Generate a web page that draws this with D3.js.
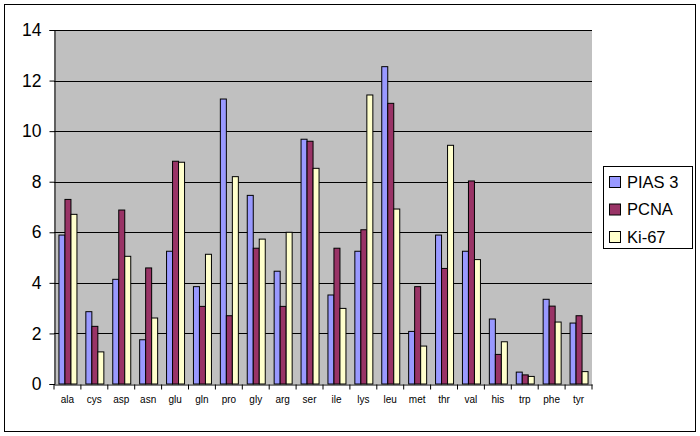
<!DOCTYPE html>
<html><head><meta charset="utf-8">
<script src="https://cdn.jsdelivr.net/npm/d3@7"></script>
<style>body{margin:0;background:#fff}svg{display:block}</style>
</head><body>
<script>
const categories = ["ala","cys","asp","asn","glu","gln","pro","gly","arg","ser","ile","lys","leu","met","thr","val","his","trp","phe","tyr"];
const seriesNames = ["PIAS 3","PCNA","Ki-67"];
const pias3 = [5.89,2.86,4.14,1.75,5.25,3.85,11.27,7.46,4.46,9.68,3.52,5.25,12.55,2.08,5.89,5.25,2.57,0.47,3.35,2.41];
const pcna  = [7.30,2.28,6.88,4.59,8.81,3.07,2.70,5.37,3.07,9.60,5.37,6.10,11.10,3.85,4.57,8.03,1.17,0.36,3.08,2.70];
const ki67  = [6.71,1.27,5.05,2.61,8.77,5.13,8.20,5.73,6.00,8.53,2.99,11.43,6.92,1.50,9.44,4.92,1.67,0.30,2.45,0.49];
const yTicks = [0,2,4,6,8,10,12,14];
const colors = ["#9999FF","#993366","#FFFFCC"];
const values = [pias3, pcna, ki67];

(function(){
const W = 700, H = 436;
const svg = d3.select("body").append("svg").attr("width", W).attr("height", H);
svg.append("rect").attr("x",4.5).attr("y",4.5).attr("width",691).attr("height",427)
  .attr("fill","#fff").attr("stroke","#000").attr("stroke-width",1);

const pL = 54, pR = 592, pT = 30, pB = 384;
const x = d3.scaleBand().domain(categories).range([pL, pR]).paddingInner(0).paddingOuter(0);
const y = d3.scaleLinear().domain([0,14]).range([pB, pT]);
const xs = d3.scaleBand().domain(seriesNames).range([0, 18]);

svg.append("rect").attr("x",pL).attr("y",pT).attr("width",pR-pL).attr("height",pB-pT).attr("fill","#C0C0C0");

svg.append("g").selectAll("line").data(yTicks.filter(d=>d>0)).join("line")
  .attr("x1",pL).attr("x2",pR).attr("y1",d=>Math.round(y(d))+0.5).attr("y2",d=>Math.round(y(d))+0.5)
  .attr("stroke","#000").attr("stroke-width",1);

const groups = svg.append("g").selectAll("g").data(categories).join("g")
  .attr("transform", d => `translate(${x(d) + (x.bandwidth()-18)/2 + 0.5},0)`);
groups.selectAll("rect").data((d,i) => seriesNames.map((s,k)=>({s, v: values[k][i], c: colors[k]}))).join("rect")
  .attr("x", d => xs(d.s)).attr("width", xs.bandwidth())
  .attr("y", d => y(d.v)).attr("height", d => pB - y(d.v))
  .attr("fill", d => d.c).attr("stroke","#000").attr("stroke-width",1);

const yAxis = svg.append("g").attr("transform",`translate(${pL+0.5},0)`)
  .call(d3.axisLeft(y).tickValues(yTicks).tickSize(5).tickPadding(6).tickFormat(d3.format("d")));
yAxis.select(".domain").attr("stroke","#000");
yAxis.selectAll("text").attr("font-family","Arial, 'Liberation Sans', sans-serif").attr("font-size",17.5).attr("fill","#000").attr("dx",-2);

const xAxis = svg.append("g").attr("transform",`translate(0,${pB+0.5})`)
  .call(d3.axisBottom(x).tickSize(5).tickPadding(6).tickSizeOuter(0));
xAxis.selectAll(".tick line").attr("transform",`translate(${x.bandwidth()/2},0)`);
xAxis.append("line").attr("x1",pL).attr("x2",pL).attr("y1",0).attr("y2",5).attr("stroke","#000");
xAxis.select(".domain").attr("stroke","#000");
xAxis.selectAll("text").attr("font-family","Arial, 'Liberation Sans', sans-serif").attr("font-size",10).attr("fill","#000");

const lg = svg.append("g");
lg.append("rect").attr("x",603.5).attr("y",166.5).attr("width",89).attr("height",82).attr("fill","#fff").attr("stroke","#000");
const items = lg.selectAll("g").data(seriesNames).join("g").attr("transform",(d,i)=>`translate(0,${182 + i*27.5})`);
items.append("rect").attr("x",609.5).attr("y",-5.5).attr("width",11).attr("height",11)
  .attr("fill",(d,i)=>colors[i]).attr("stroke","#000");
items.append("text").attr("x",627).attr("y",0).attr("dy","0.36em").text(d=>d)
  .attr("font-family","Arial, 'Liberation Sans', sans-serif").attr("font-size",16.5).attr("fill","#000");
})();
</script>
</body></html>
